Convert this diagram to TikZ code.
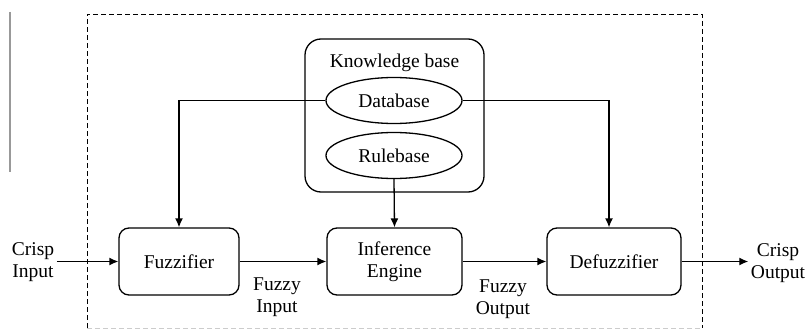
\documentclass[tikz,border=0pt]{standalone}
\usepackage{fontspec}
\setmainfont{Liberation Serif}
\usepackage{tikz}
\usetikzlibrary{shapes.geometric,arrows.meta}

\begin{document}
\begin{tikzpicture}[x=1pt,y=-1pt,>={Latex[length=9pt,width=8pt]},line width=1.3pt,
                    font=\fontsize{19.5}{22}\selectfont,
                    block/.style={draw,rectangle,rounded corners=10pt,minimum height=67pt},
                    base/.style={draw,ellipse,minimum width=136pt,minimum height=46pt,inner sep=0pt},
                    lbl/.style={align=center,inner sep=2pt},
                    frame/.style={dash pattern=on 5pt off 3pt,line width=0.9pt}]
\useasboundingbox (0,0) rectangle (809,329);
\draw[gray!80,line width=1.1pt] (10,12) -- (10,172);
\draw[frame] (87,328) -- (87,14) -- (702,14) -- (702,328);
\draw[frame,gray!40] (87,328) -- (702,328);

\node[draw,rectangle,rounded corners=16pt,minimum width=179pt,minimum height=153pt] (kb) at (394.5,115.5) {};
\node (kbtitle) at (394.5,63) {Knowledge base};
\node[base] (db) at (394,100.5) {Database};
\node[base] (rb) at (394,155.5) {Rulebase};

\node[block,minimum width=120pt] (fuzz) at (179,261.5) {Fuzzifier};
\node[block,minimum width=135pt,align=center] (infer) at (394.5,261.5) {Inference\\Engine};
\node[block,minimum width=134pt] (defuzz) at (614,261.5) {Defuzzifier};

\node[lbl] (crispin) at (33,262) {Crisp\\Input};
\node[lbl] (fuzzin) at (277,297) {Fuzzy\\Input};
\node[lbl] (fuzzout) at (503,299) {Fuzzy\\Output};
\node[lbl] (crispout) at (778,263) {Crisp\\Output};

\draw[->] (crispin.east |- fuzz.west) -- (fuzz.west);
\draw[->] (fuzz.east) -- (infer.west);
\draw[->] (infer.east) -- (defuzz.west);
\draw[->] (defuzz.east) -- (crispout.west |- defuzz.east);
\draw[->] (db.west) -| (fuzz.north);
\draw[->] (db.east) -| ([xshift=-5pt]defuzz.north);
\draw[->] (rb.south) -- (infer.north);
\end{tikzpicture}
\end{document}
